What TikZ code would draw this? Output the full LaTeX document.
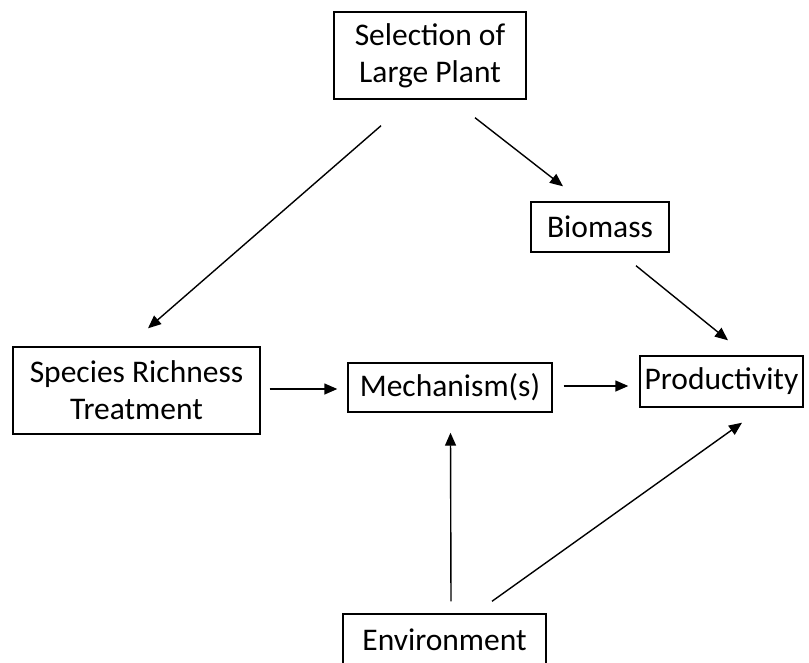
\documentclass[tikz,border=0pt]{standalone}
\usepackage{fontspec}
\setmainfont{Carlito}
\usetikzlibrary{arrows.meta}
\begin{document}
\begin{tikzpicture}[x=1pt,y=1pt,
  box/.style={draw=black,line width=1.4pt,inner sep=0pt,align=center,
    font=\fontsize{31.5}{37}\selectfont},
  arr/.style={line width=1.4pt,-{Triangle[length=13pt,width=11pt]}}]
  \useasboundingbox (0,0) rectangle (809,-662);

  % boxes
  \node[box,minimum width=192pt,minimum height=87pt] (sel) at (430,-55.5) {Selection of\\Large Plant};
  \node[box,minimum width=138pt,minimum height=50pt] (bio) at (600,-227) {Biomass};
  \node[box,minimum width=247pt,minimum height=87pt] (spr) at (136.5,-390.5) {Species Richness\\Treatment};
  \node[box,minimum width=204pt,minimum height=49pt] (mech) at (450,-387.5) {Mechanism(s)};
  \node[box,minimum width=163pt,minimum height=51pt] (prod) at (721.5,-381.5) {Productivity};
  \node[box,minimum width=203pt,minimum height=52pt] (env) at (444.5,-640) {Environment};

  % connectors
  \draw[arr] ([xshift=-49pt,yshift=-26pt]sel.south) -- ([xshift=11.5pt,yshift=18pt]spr.north);
  \draw[arr] ([xshift=45pt,yshift=-18pt]sel.south) -- ([xshift=-37pt,yshift=15pt]bio.north);
  \draw[arr] ([xshift=36pt,yshift=-13pt]bio.south) -- ([xshift=6.5pt,yshift=15pt]prod.north);
  \draw[arr] ([xshift=9pt,yshift=1.5pt]spr.east) -- ([xshift=-10pt,yshift=-1.5pt]mech.west);
  \draw[arr] ([xshift=11pt,yshift=1.5pt]mech.east) -- ([xshift=-11pt,yshift=-4.5pt]prod.west);
  \draw[arr] ([xshift=6.5pt,yshift=12pt]env.north) -- ([xshift=0.5pt,yshift=-20pt]mech.south);
  \draw[arr] ([xshift=47.5pt,yshift=12pt]env.north) -- ([xshift=20.5pt,yshift=-15pt]prod.south);
\end{tikzpicture}
\end{document}
